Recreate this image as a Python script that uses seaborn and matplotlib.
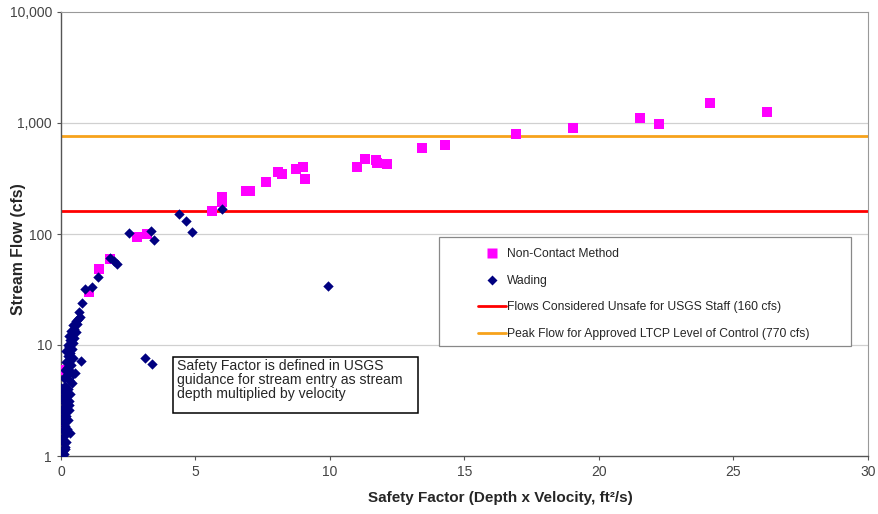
import matplotlib
matplotlib.use("Agg")
import matplotlib.pyplot as plt
from matplotlib.lines import Line2D
from matplotlib.patches import Rectangle
from matplotlib.ticker import FixedLocator, NullLocator
import seaborn as sns
import pandas as pd

# Non-contact (radar / acoustic) measurements: safety factor vs. stream flow
noncontact_sf = [0.05, 0.10, 1.05, 1.42, 1.82, 2.81, 3.20, 5.61, 5.97, 5.99, 6.87, 7.02,
                 7.61, 8.05, 8.22, 8.72, 8.98, 9.07, 11.02, 11.30, 11.70, 11.75, 12.12,
                 13.42, 14.29, 16.93, 19.05, 21.53, 22.24, 24.11, 26.23]
noncontact_q = [1.9, 6.0, 30, 48, 59, 94, 100, 160, 195, 216, 244, 244,
                294, 362, 350, 389, 402, 316, 402, 469, 462, 436, 431,
                601, 639, 791, 909, 1119, 979, 1514, 1256]

# Wading measurements
wading_sf = [0.05, 0.12, 0.08, 0.15, 0.10, 0.20, 0.05, 0.12, 0.18, 0.08, 0.22, 0.14,
             0.10, 0.25, 0.05, 0.18, 0.12, 0.30, 0.08, 0.22, 0.15, 0.28, 0.05, 0.20,
             0.35, 0.10, 0.00, 0.25, 0.15, 0.40, 0.30, 0.10, 0.20, 0.45, 0.32, 0.15,
             0.25, 0.38, 0.20, 0.30, 0.45, 0.25, 0.35, 0.20, 0.40, 0.30, 0.25, 0.45,
             0.35, 0.50, 0.30, 0.42, 0.55, 0.38, 0.50, 0.45, 0.60, 0.55, 0.65, 0.71,
             0.67, 0.79, 0.52, 0.75, 0.15, 0.28, 0.33,
             0.90, 1.15, 1.36, 1.82, 1.98, 2.10, 2.54, 3.35, 3.46, 4.39, 4.63, 4.88,
             6.00, 3.13, 3.37, 9.93]
wading_q = [1.0, 1.05, 1.1, 1.2, 1.3, 1.35, 1.4, 1.5, 1.6, 1.7, 1.75, 1.85,
            2.0, 2.1, 2.2, 2.3, 2.5, 2.6, 2.7, 2.8, 3.0, 3.1, 3.3, 3.5,
            3.6, 3.8, 4.1, 4.0, 4.3, 4.5, 4.8, 5.0, 5.3, 5.5, 5.8, 6.0,
            6.3, 6.6, 7.0, 7.3, 7.6, 8.0, 8.4, 8.8, 9.2, 9.6, 10.0, 10.5,
            11.0, 11.5, 12.0, 12.5, 13.0, 13.5, 14.0, 15.0, 15.5, 16.5, 17.0, 18.0,
            20.0, 24.0, 5.6, 7.2, 1.15, 2.9, 1.6,
            32, 33, 41, 61, 57, 54, 102, 106, 88, 152, 132, 104,
            167, 7.7, 6.7, 33.9]

unsafe_flow = 160
peak_flow = 770

x_ticks = [0, 5, 10, 15, 20, 25, 30]
y_ticks = [1, 10, 100, 1000, 10000]
y_tick_labels = ["1", "10", "100", "1,000", "10,000"]

legend_labels = ["Non-Contact Method", "Wading",
                 "Flows Considered Unsafe for USGS Staff (160 cfs)",
                 "Peak Flow for Approved LTCP Level of Control (770 cfs)"]
note_text = ("Safety Factor is defined in USGS\n"
             "guidance for stream entry as stream\n"
             "depth multiplied by velocity")

sns.set_style("white")
plt.rcParams["font.family"] = ["Liberation Sans", "DejaVu Sans"]

magenta = "#FF00FF"
navy = "#000080"
red = "#FF0000"
orange = "#F7A21B"

fig = plt.figure(figsize=(8.79, 5.14), dpi=100)
ax = fig.add_axes([61 / 879, 58 / 514, 807 / 879, 444 / 514])

nc = pd.DataFrame({"sf": noncontact_sf, "q": noncontact_q})
wd = pd.DataFrame({"sf": wading_sf, "q": wading_q})

ax.set_yscale("log")
for yv in y_ticks[1:-1]:
    ax.axhline(yv, color="#d0d0d0", lw=0.9, zorder=0)

ax.axhline(unsafe_flow, color=red, lw=2.0, zorder=1)
ax.axhline(peak_flow, color=orange, lw=2.0, zorder=1)

sns.scatterplot(data=nc, x="sf", y="q", marker="s", s=42, color=magenta,
                linewidth=0, ax=ax, zorder=3, legend=False)
sns.scatterplot(data=wd, x="sf", y="q", marker="D", s=28, color=navy,
                linewidth=0, ax=ax, zorder=4, legend=False)

ax.set_xlim(0, 30)
ax.set_ylim(1, 10000)
ax.xaxis.set_major_locator(FixedLocator(x_ticks))
ax.yaxis.set_major_locator(FixedLocator(y_ticks))
ax.yaxis.set_minor_locator(NullLocator())
ax.set_yticklabels(y_tick_labels)
ax.tick_params(axis="both", which="major", direction="out", length=3, width=0.8,
               color="#555555", labelsize=10, labelcolor="#444444", pad=3.5,
               left=True, bottom=True)

for side in ["left", "bottom"]:
    ax.spines[side].set_color("#555555")
    ax.spines[side].set_linewidth(1.0)
for side in ["top", "right"]:
    ax.spines[side].set_color("#999999")
    ax.spines[side].set_linewidth(0.8)

ax.set_xlabel("Safety Factor (Depth x Velocity, ft²/s)", fontsize=11,
              fontweight="bold")
ax.set_ylabel("Stream Flow (cfs)", fontsize=11.3, fontweight="bold")
ax.xaxis.set_label_coords(0.544, -0.078)
ax.yaxis.set_label_coords(-0.043, 0.466)

# Legend frame drawn separately so the entries sit inset from its left edge
ax.add_patch(Rectangle((0.468, 0.248), 0.511, 0.245, transform=ax.transAxes,
                       fill=True, fc="white", ec="#888888", lw=0.9, zorder=5))
handles = [
    Line2D([], [], ls="none", marker="s", ms=6.5, color=magenta, mec="none"),
    Line2D([], [], ls="none", marker="D", ms=5.2, color=navy, mec="none"),
    Line2D([], [], color=red, lw=2.0),
    Line2D([], [], color=orange, lw=2.0),
]
leg = ax.legend(handles, legend_labels, loc="upper left",
                bbox_to_anchor=(0.502, 0.495), frameon=False, fontsize=8.7,
                handlelength=2.3, handletextpad=0.05, labelspacing=1.2,
                borderpad=0.5)
leg.set_zorder(6)

# Note box with a fixed frame around the wrapped text
ax.add_patch(Rectangle((0.1388, 0.0968), 0.3036, 0.1262, transform=ax.transAxes,
                       fill=True, fc="white", ec="black", lw=1.1, zorder=5))
ax.text(0.1437, 0.2185, note_text, transform=ax.transAxes, fontsize=10.1,
        va="top", ha="left", linespacing=1.02, zorder=6)

fig.savefig("out.png", dpi=100)
